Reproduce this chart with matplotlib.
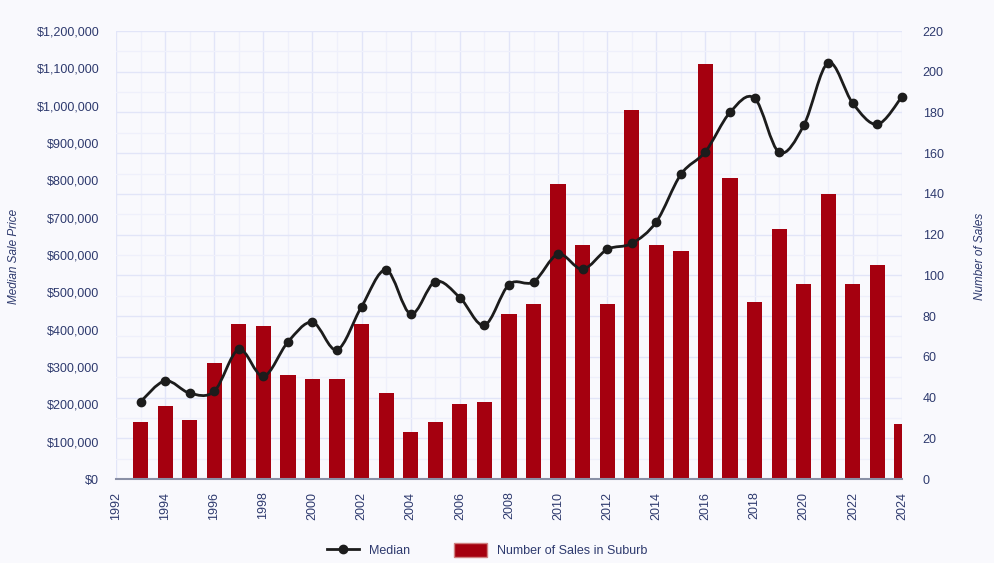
import matplotlib.pyplot as plt
from matplotlib.path import Path
from matplotlib.patches import PathPatch, Patch
from matplotlib.lines import Line2D
from matplotlib.ticker import MultipleLocator, FuncFormatter

years = list(range(1993, 2025))
sales = [28, 36, 29, 57, 76, 75, 51, 49, 49, 76, 42, 23, 28, 37, 38, 81,
         86, 145, 115, 86, 181, 115, 112, 204, 148, 87, 123, 96, 140, 96,
         105, 27]
median = [207000, 263000, 230000, 235000, 347000, 275000, 367000, 420000,
          346000, 462000, 560000, 442000, 529000, 486000, 412000, 521000,
          528000, 602000, 562000, 615000, 631000, 689000, 816000, 877000,
          982000, 1020000, 875000, 947000, 1115000, 1006000, 950000, 1024000]

navy = "#2e3a6e"
bar_red = "#a5000f"
bg = "#f9f9fd"

plt.rcParams["font.family"] = ["Liberation Sans", "DejaVu Sans"]
fig = plt.figure(figsize=(9.94, 5.63), dpi=100, facecolor=bg)
ax = fig.add_axes([0.1167, 0.1492, 0.7907, 0.7957])
ax.set_facecolor(bg)
ax2 = ax.twinx()

# bars on the primary axes (right scale), line on the twin (left scale)
ax.bar(years, sales, width=0.62, color=bar_red, zorder=2)
ax.set_xlim(1992, 2024)
ax.set_ylim(0, 220)
ax.xaxis.set_major_locator(MultipleLocator(2))
ax.xaxis.set_minor_locator(MultipleLocator(1))
ax.yaxis.set_major_locator(MultipleLocator(20))
ax.yaxis.set_minor_locator(MultipleLocator(10))
ax.set_axisbelow(True)
ax.grid(True, which="major", color="#e2e5f8", lw=1.0)
ax.grid(True, which="minor", color="#eff0fb", lw=0.9)
ax.yaxis.tick_right()
ax.yaxis.set_label_position("right")
ax.tick_params(axis="y", which="both", length=0, pad=15, labelsize=9, labelcolor=navy)
ax.tick_params(axis="x", which="both", length=0, pad=9, labelsize=9, labelcolor=navy,
               labelrotation=90)
for s in ["top", "left", "right"]:
    ax.spines[s].set_visible(False)
ax.spines["bottom"].set_color("#8a90a6")
ax.spines["bottom"].set_linewidth(1.5)
ax.spines["bottom"].set_zorder(3)

ax2.set_ylim(0, 1200000)
ax2.yaxis.tick_left()
ax2.yaxis.set_label_position("left")
ax2.yaxis.set_major_locator(MultipleLocator(100000))
ax2.yaxis.set_major_formatter(FuncFormatter(lambda v, p: "${:,.0f}".format(v)))
ax2.tick_params(axis="y", length=0, pad=12, labelsize=9, labelcolor=navy)
for s in ax2.spines.values():
    s.set_visible(False)

# smooth curve through the points (Catmull-Rom as cubic Bezier)
pts = list(zip(years, median))
verts = [pts[0]]
codes = [Path.MOVETO]
for i in range(len(pts) - 1):
    p0 = pts[max(i - 1, 0)]
    p1 = pts[i]
    p2 = pts[i + 1]
    p3 = pts[min(i + 2, len(pts) - 1)]
    c1 = (p1[0] + (p2[0] - p0[0]) / 6, p1[1] + (p2[1] - p0[1]) / 6)
    c2 = (p2[0] - (p3[0] - p1[0]) / 6, p2[1] - (p3[1] - p1[1]) / 6)
    verts += [c1, c2, p2]
    codes += [Path.CURVE4] * 3
ax2.add_patch(PathPatch(Path(verts, codes), fill=False, edgecolor="#1c1c1c", lw=2.0,
                        zorder=4, clip_on=False))
ax2.plot(years, median, ls="none", marker="o", ms=6, color="#1c1c1c", zorder=5,
         clip_on=False)

fig.text(0.008, 0.545, "Median Sale Price", rotation=90, style="italic", fontsize=8.5,
         color=navy, ha="left", va="center")
fig.text(0.992, 0.545, "Number of Sales", rotation=90, style="italic", fontsize=8.5,
         color=navy, ha="right", va="center")

handles = [Line2D([0], [0], color="#1c1c1c", lw=2, marker="o", ms=6),
           Patch(facecolor=bar_red, edgecolor="#d08080")]
fig.legend(handles, ["Median", "Number of Sales in Suburb"], loc="lower center",
           bbox_to_anchor=(0.49, -0.01), ncol=2, frameon=False, fontsize=9,
           labelcolor=navy, columnspacing=3.5, handlelength=2.6, handleheight=1.3)

fig.savefig("out.png", dpi=100, facecolor=bg)
